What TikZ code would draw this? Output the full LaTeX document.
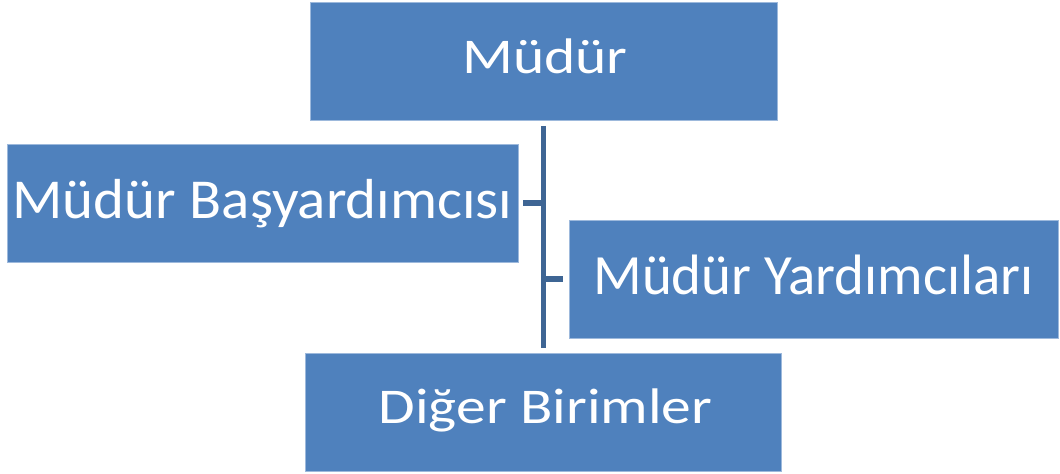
\documentclass[tikz,border=0pt]{standalone}
\usepackage{fontspec}
\setmainfont{Carlito}
\newfontfamily\widefont[FakeStretch=1.19]{Carlito}
\newfontfamily\midfont[FakeStretch=1.045]{Carlito}
\definecolor{boxfill}{HTML}{4F81BD}
\definecolor{boxedge}{HTML}{9DB9DC}
\definecolor{linkcol}{HTML}{3E6594}
\begin{document}
\begin{tikzpicture}[x=0.75pt,y=-0.75pt,
  orgbox/.style={draw=boxedge, line width=0.6pt, fill=boxfill, inner sep=0pt,
    minimum height=118*0.75pt, anchor=center},
  boxtext/.style={text=white, inner sep=0pt, anchor=base},
  link/.style={draw=linkcol, line width=4.1pt}]
\useasboundingbox (0,0) rectangle (1060,474);
\node[orgbox, minimum width=467*0.75pt] (mudur) at (543.5,61) {};
\node[orgbox, minimum width=511*0.75pt] (bas) at (262.5,203) {};
\node[orgbox, minimum width=489*0.75pt] (yard) at (813.5,279) {};
\node[orgbox, minimum width=476*0.75pt] (diger) at (543,412) {};
\node[boxtext, font=\widefont\fontsize{37.5}{44}\selectfont] (mudurt) at (545,73.3) {Müdür};
\node[boxtext, font=\midfont\fontsize{42.3}{50}\selectfont] (bast) at (262.5,218.3) {Müdür Başyardımcısı};
\node[boxtext, font=\fontsize{42.7}{50}\selectfont] (yardt) at (813.5,294.3) {Müdür Yardımcıları};
\node[boxtext, font=\widefont\fontsize{37.5}{44}\selectfont] (digert) at (545.5,423.3) {Diğer Birimler};
\coordinate (vtop) at (543.5,126);
\coordinate (vbot) at (543.5,348);
\coordinate (jl) at (543.5,203);
\coordinate (jr) at (543.5,279);
\coordinate (tl) at (523,203);
\coordinate (tr) at (563,279);
\draw[link] (vtop) -- (vbot);
\draw[link] (tl) -- (jl);
\draw[link] (jr) -- (tr);
\end{tikzpicture}
\end{document}
